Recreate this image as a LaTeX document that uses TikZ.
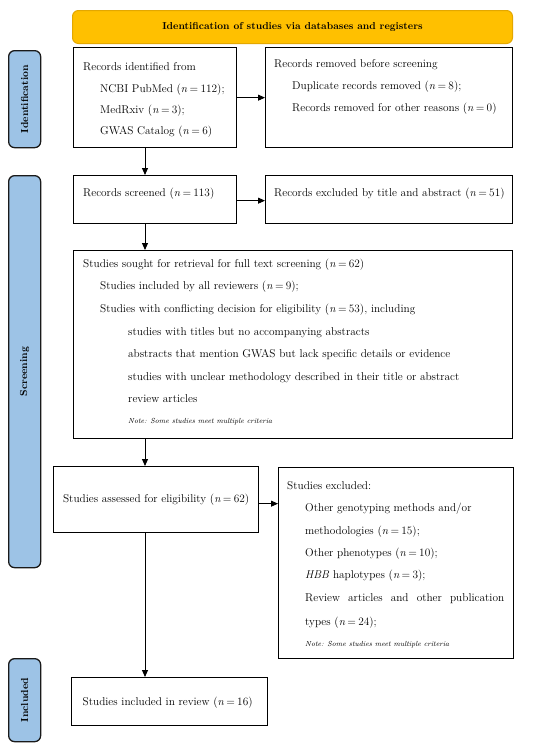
\documentclass[tikz,border=0pt]{standalone}
\usetikzlibrary{arrows.meta,calc}
\definecolor{hdrfill}{HTML}{FFC000}
\definecolor{hdrline}{HTML}{E3A700}
\definecolor{lblfill}{HTML}{9DC3E6}
\definecolor{lblline}{HTML}{1A1A1A}
\newcommand{\nn}[1]{\textit{n}\hspace{0.2em}=\hspace{0.2em}#1}
\newcommand{\notetext}{\resizebox{144pt}{!}{\fontsize{8}{9}\selectfont\itshape Note: Some studies meet multiple criteria}}
\begin{document}
\begin{tikzpicture}[x=1pt,y=-1pt,
  box/.style={draw=black,line width=1.3pt,inner sep=0pt,anchor=north west},
  hdr/.style={draw=hdrline,fill=hdrfill,line width=1pt,rounded corners=6pt,inner sep=0pt,anchor=north west},
  lbl/.style={draw=lblline,fill=lblfill,line width=1.3pt,rounded corners=6pt,inner sep=0pt,anchor=north west},
  lbltext/.style={rotate=90,font=\fontsize{10.2}{12}\selectfont\bfseries},
  txt/.style={anchor=base west,inner sep=0pt,font=\fontsize{11.3}{13}\selectfont},
  ctxt/.style={inner sep=0pt,font=\fontsize{11.3}{13}\selectfont},
  note/.style={anchor=base west,inner sep=0pt},
  arr/.style={line width=0.9pt,-{Triangle[length=7pt,width=6pt]}}
]
\useasboundingbox (0,0) rectangle (550,745);
\fill[white] (0,0) rectangle (550,745);
% header
\node[hdr,minimum width=440pt,minimum height=33pt] (hdr) at (72,10) {};
\node[ctxt,font=\fontsize{10.1}{12}\selectfont\bfseries] (hdrt) at (hdr.center) {Identification of studies via databases and registers};
% side labels
\node[lbl,minimum width=32pt,minimum height=97pt] (lid) at (8,50) {};
\node[lbltext] (lidt) at (lid.center) {Identification};
\node[lbl,minimum width=32pt,minimum height=392pt] (lsc) at (8,175) {};
\node[lbltext] (lsct) at (lsc.center) {Screening};
\node[lbl,minimum width=32pt,minimum height=83pt] (lin) at (8,658) {};
\node[lbltext] (lint) at (lin.center) {Included};
% boxes
\node[box,minimum width=163pt,minimum height=100pt] (b1) at (73,47) {};
\node[box,minimum width=247pt,minimum height=100pt] (b2) at (265,47) {};
\node[box,minimum width=163pt,minimum height=48pt] (b3) at (73,175) {};
\node[box,minimum width=247pt,minimum height=48pt] (b4) at (265,175) {};
\node[box,minimum width=439pt,minimum height=188pt] (b5) at (73,250) {};
\node[box,minimum width=205pt,minimum height=66pt] (b6) at (53,466) {};
\node[box,minimum width=235pt,minimum height=191pt] (b7) at (278,467) {};
\node[box,minimum width=196pt,minimum height=48pt] (b8) at (71,677) {};
% box 1 text
\node[txt] (t1a) at (83,70) {Records identified from};
\node[txt] (t1b) at (100,92) {NCBI PubMed (\nn{112});};
\node[txt] (t1c) at (100,113) {MedRxiv (\nn{3});};
\node[txt] (t1d) at (100,134) {GWAS Catalog (\nn{6})};
% box 2 text
\node[txt] (t2a) at (274,67) {Records removed before screening};
\node[txt] (t2b) at (292,89) {Duplicate records removed (\nn{8});};
\node[txt] (t2c) at (292,111) {Records removed for other reasons (\nn{0})};
% box 3, 4 text
\node[txt] (t3) at (83,196) {Records screened (\nn{113})};
\node[txt] (t4) at (274,196) {Records excluded by title and abstract (\nn{51})};
% box 5 text
\node[txt] (t5a) at (83,267) {Studies sought for retrieval for full text screening (\nn{62})};
\node[txt] (t5b) at (100,289) {Studies included by all reviewers (\nn{9});};
\node[txt] (t5c) at (100,312) {Studies with conflicting decision for eligibility (\nn{53}), including};
\node[txt] (t5d) at (128,335) {studies with titles but no accompanying abstracts};
\node[txt] (t5e) at (128,357) {abstracts that mention GWAS but lack specific details or evidence};
\node[txt] (t5f) at (128,380) {studies with unclear methodology described in their title or abstract};
\node[txt] (t5g) at (128,402) {review articles};
\node[note] (t5h) at (128,423) {\notetext};
% box 6 text
\node[ctxt] (t6) at ($(b6.center)+(0,0)$) {Studies assessed for eligibility (\nn{62})};
% box 7 text
\node[txt] (t7a) at (287,489) {Studies excluded:};
\node[txt] (t7b) at (305,511) {Other genotyping methods and/or};
\node[txt] (t7c) at (305,534) {methodologies (\nn{15});};
\node[txt] (t7d) at (305,556) {Other phenotypes (\nn{10});};
\node[txt] (t7e) at (305,578) {\textit{HBB} haplotypes (\nn{3});};
\node[txt] (t7f) at (305,601) {\makebox[199pt][s]{Review articles and other publication}};
\node[txt] (t7g) at (305,625) {types (\nn{24});};
\node[note] (t7h) at (305,646) {\notetext};
% box 8 text
\node[ctxt] (t8) at ($(b8.center)+(-2,1)$) {Studies included in review (\nn{16})};
% connectors
\coordinate (col) at (145,0);
\draw[arr] (b1.east) -- (b1.east -| b2.west);
\draw[arr] (b1.south -| col) -- (b3.north -| col);
\draw[arr] ($(b3.east)+(0,1)$) -- ($(b3.east -| b4.west)+(0,1)$);
\draw[arr] (b3.south -| col) -- (b5.north -| col);
\draw[arr] (b5.south -| col) -- (b6.north -| col);
\draw[arr] ($(b6.east)+(0,4)$) -- ($(b6.east -| b7.west)+(0,4)$);
\draw[arr] (b6.south -| col) -- (b8.north -| col);
\end{tikzpicture}
\end{document}
